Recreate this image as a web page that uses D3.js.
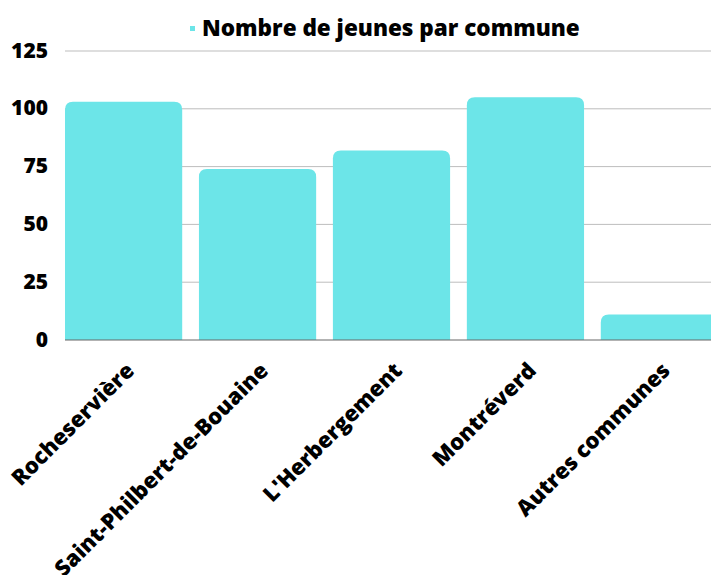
<!DOCTYPE html>
<html>
<head>
<meta charset="utf-8">
<script src="https://cdn.jsdelivr.net/npm/d3@7"></script>
<style>
  html, body { margin: 0; padding: 0; background: #fff; overflow: hidden; }
</style>
</head>
<body>
<div id="chart"></div>
<script>
const communes = ['Rocheservière', 'Saint-Philbert-de-Bouaine', "L'Herbergement", 'Montréverd', 'Autres communes'];
const jeunes = [103, 74, 82, 105, 11];
const yTicks = [0, 25, 50, 75, 100, 125];
const seriesName = 'Nombre de jeunes par commune';

const W = 711, H = 575;
const FONT = '"Open Sans", sans-serif';
const BAR = '#6ce5e8';

const svg = d3.select('#chart').append('svg')
  .attr('width', W).attr('height', H)
  .attr('viewBox', `0 0 ${W} ${H}`);

const x = d3.scaleBand().domain(communes).range([65, 718]).paddingInner(0.125).paddingOuter(0);
const y = d3.scaleLinear().domain([0, 125]).range([340, 51]);

// ── grid + y labels ───────────────────────────────────────────────────────
yTicks.forEach((t) => {
  if (t > 0) {
    svg.append('line')
      .attr('x1', 65).attr('x2', W)
      .attr('y1', y(t)).attr('y2', y(t))
      .attr('stroke', '#bdbdbd').attr('stroke-width', 1);
  }
  svg.append('text')
    .attr('x', 48).attr('y', y(t) + 1)
    .attr('text-anchor', 'end')
    .attr('dominant-baseline', 'middle')
    .attr('font-family', FONT).attr('font-weight', 800)
    .attr('font-size', '21px').attr('fill', '#000')
    .text(t);
});

// ── bars (rounded top corners) ─────────────────────────────────────────────
const r = 8;
communes.forEach((c, i) => {
  const x0 = x(c), w = x.bandwidth();
  const yTop = y(jeunes[i]), yBot = y(0);
  const rr = Math.min(r, (yBot - yTop));
  const p = d3.path();
  p.moveTo(x0, yBot);
  p.lineTo(x0, yTop + rr);
  p.quadraticCurveTo(x0, yTop, x0 + rr, yTop);
  p.lineTo(x0 + w - rr, yTop);
  p.quadraticCurveTo(x0 + w, yTop, x0 + w, yTop + rr);
  p.lineTo(x0 + w, yBot);
  p.closePath();
  svg.append('path').attr('d', p.toString()).attr('fill', BAR);
});

// baseline
svg.append('line')
  .attr('x1', 65).attr('x2', W)
  .attr('y1', y(0)).attr('y2', y(0))
  .attr('stroke', '#666').attr('stroke-width', 1);

// ── x labels rotated ──────────────────────────────────────────────────────
communes.forEach((c) => {
  const cx = x(c) + x.bandwidth() / 2 + 12;
  const cy = 372;
  svg.append('text')
    .attr('transform', `translate(${cx},${cy}) rotate(-45)`)
    .attr('text-anchor', 'end')
    .attr('font-family', FONT).attr('font-weight', 800)
    .attr('font-size', '22px').attr('fill', '#000')
    .text(c);
});

// ── legend / title ─────────────────────────────────────────────────────────
svg.append('rect')
  .attr('x', 190).attr('y', 26).attr('width', 5).attr('height', 5)
  .attr('fill', BAR);
svg.append('text')
  .attr('x', 202).attr('y', 30)
  .attr('dominant-baseline', 'middle')
  .attr('font-family', FONT).attr('font-weight', 800)
  .attr('font-size', '22.5px').attr('fill', '#000')
  .text(seriesName);
</script>
</body>
</html>
